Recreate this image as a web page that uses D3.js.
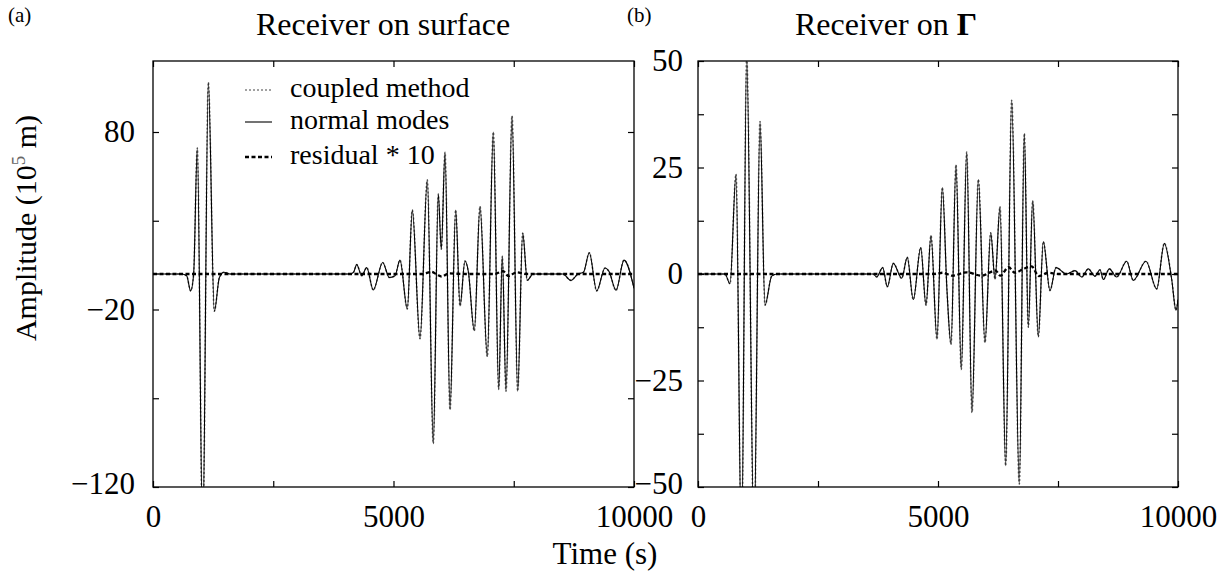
<!DOCTYPE html>
<html>
<head>
<meta charset="utf-8">
<script src="https://cdn.jsdelivr.net/npm/d3@7"></script>
<style>
  html, body { margin: 0; padding: 0; background: #fff; }
  svg { display: block; }
  text { font-family: "Liberation Serif", "Times New Roman", serif; fill: #000; }
</style>
</head>
<body>
<svg id="chart" width="1229" height="581"></svg>
<script>
// ---------------- DATA ----------------
// Panel (a): receiver on surface
const timeA = [0, 600, 700, 783, 845, 921, 1033, 1150, 1275, 1380, 1476, 1600,
  4100, 4170, 4235, 4339, 4443, 4580, 4775, 4913, 5031, 5135, 5287, 5391, 5551, 5703,
  5827, 5931, 5994, 6071, 6175, 6293, 6383, 6486, 6555, 6680, 6798, 6950, 7075, 7187,
  7262, 7339, 7464, 7582, 7686, 7782, 7900, 8524, 8684, 8836, 8950, 9071, 9225, 9397,
  9480, 9626, 9792, 10000];
const normalA = [0, 0, -1, -9.5, 0, 71, -150, 108, -21, -2, 1, 0,
  0, 1, 5.3, -1, 3.6, -9, 6.5, -2, -1, 7.8, -19.7, 36, -36.5, 53,
  -95.5, 45, 14, 68.6, -76.5, 36, -18, 7.3, 1.5, -32, 38, -46.5, 80, -65,
  10, -66, 89, -66, 23, -3.5, 0, 0, -3.6, 0, 1, 12, -9.5, 3.4,
  1.5, -9.2, 7.8, -8];
// the coupled-method trace coincides with the normal-mode trace at this scale
const coupledA = normalA;
const residTimeA = [0, 5600, 5790, 5900, 6000, 6150, 6500, 7100, 7280, 7390, 7560, 7750, 10000];
const residA = [0, 0, 1.2, -0.3, -1.5, 0.3, 0, 0, 1.6, -1.2, 1, 0, 0];

// Panel (b): receiver on Gamma
const timeB = [0, 562, 667, 792, 906, 1014, 1167, 1292, 1396, 1535, 1650,
  3650, 3723, 3848, 3944, 4069, 4244, 4360, 4485, 4640, 4750, 4854, 4979, 5090, 5187,
  5271, 5375, 5485, 5598, 5708, 5840, 5979, 6098, 6188, 6292, 6410, 6535, 6694, 6798,
  6881, 6973, 7090, 7194, 7333, 7458, 7681, 7854, 7994, 8131, 8271, 8375, 8444, 8569,
  8723, 8931, 9069, 9333, 9556, 9715, 9869, 9958, 10000];
const normalB = [0, 0, -2.3, 23.4, -65, 51, -62, 35.8, -7.3, -0.5, 0,
  0, -0.7, 1.5, -3, 2.5, -1, 3.9, -6, 6.2, -7.3, 9, -15.3, 20.3, -3.8,
  -16.5, 25.6, -22.4, 28.6, -32.5, 22.2, -16.1, 9.7, -1.2, 15.8, -45, 40.8, -49.3, 33,
  -12.5, 17.2, -14.7, 7.6, -3.9, 1.5, 0, 0.8, -0.7, 1.2, -0.5, 1, -1.3, 1.2,
  -0.7, 3, -1.5, 3, -3.5, 7.2, -1.3, -8.5, -6];
const coupledB = normalB;
const residTimeB = [0, 4900, 5100, 5300, 5600, 5900, 6200, 6300, 6470, 6600, 6800, 6950, 7100, 7300, 7500, 10000];
const residB = [0, 0, 0.3, -0.4, 0.4, -0.4, 0.8, -0.4, 1.6, 0.3, 1.3, 1.8, -0.5, 0.3, 0, 0];

// Axes / ticks
const xTicks = [0, 2500, 5000, 7500, 10000];
const xTickLabels = [0, 5000, 10000];
const yTicksA = [-120, -70, -20, 30, 80];
const yTickLabelsA = [-120, -20, 80];
const yTicksB = [-50, -37.5, -25, -12.5, 0, 12.5, 25, 37.5, 50];
const yTickLabelsB = [-50, -25, 0, 25, 50];
const legendLabels = ["coupled method", "normal modes", "residual * 10"];

// ---------------- DRAW ----------------
const svg = d3.select("#chart");
const fmt = v => (v < 0 ? "\u2212" + Math.abs(v) : String(v));

const styles = {
  normal:  { stroke: "#000", width: 1.1, dash: null },
  coupled: { stroke: "#777", width: 1.6, dash: "2,2" },
  resid:   { stroke: "#000", width: 2.3, dash: "4,2.5" }
};

function panel(cfg) {
  const x = d3.scaleLinear().domain([0, 10000]).range([cfg.x0, cfg.x1]);
  const y = d3.scaleLinear().domain(cfg.yDomain).range([cfg.y1, cfg.y0]);
  const g = svg.append("g");

  const clipId = "clip" + cfg.id;
  svg.append("clipPath").attr("id", clipId).append("rect")
    .attr("x", cfg.x0).attr("y", cfg.y0)
    .attr("width", cfg.x1 - cfg.x0).attr("height", cfg.y1 - cfg.y0);

  const line = d3.line().x(d => x(d[0])).y(d => y(d[1])).curve(d3.curveMonotoneX);
  const plot = g.append("g").attr("clip-path", `url(#${clipId})`);

  const addLine = (ts, vs, st) => {
    const p = plot.append("path").datum(ts.map((t, i) => [t, vs[i]]))
      .attr("d", line).attr("fill", "none")
      .attr("stroke", st.stroke).attr("stroke-width", st.width)
      .attr("stroke-linejoin", "round");
    if (st.dash) p.attr("stroke-dasharray", st.dash);
  };
  addLine(cfg.t, cfg.coupled, styles.coupled);
  addLine(cfg.t, cfg.normal, styles.normal);
  addLine(cfg.rt, cfg.resid, styles.resid);

  const tickFont = sel => sel.selectAll("text")
    .attr("font-family", "Liberation Serif").attr("font-size", 31).attr("fill", "#000");
  const clean = sel => { sel.select(".domain").remove(); sel.selectAll("line").attr("stroke", "#000").attr("stroke-width", 1.2); };

  const lbl = (vals) => (d => vals.includes(d) ? fmt(d) : "");

  const ax = [
    g.append("g").attr("transform", `translate(0,${cfg.y1})`)
      .call(d3.axisBottom(x).tickValues(xTicks).tickSizeInner(-6).tickSizeOuter(0).tickPadding(18).tickFormat(lbl(xTickLabels))),
    g.append("g").attr("transform", `translate(0,${cfg.y0})`)
      .call(d3.axisTop(x).tickValues(xTicks).tickSizeInner(-6).tickSizeOuter(0).tickFormat("")),
    g.append("g").attr("transform", `translate(${cfg.x0},0)`)
      .call(d3.axisLeft(y).tickValues(cfg.yTicks).tickSizeInner(-6).tickSizeOuter(0).tickPadding(cfg.yPad).tickFormat(lbl(cfg.yLabels))),
    g.append("g").attr("transform", `translate(${cfg.x1},0)`)
      .call(d3.axisRight(y).tickValues(cfg.yTicks).tickSizeInner(-6).tickSizeOuter(0).tickFormat(""))
  ];
  ax.forEach(a => { clean(a); tickFont(a); a.attr("font-family", null).attr("font-size", null); });
  // lowest y label sits slightly above the bottom frame, as in the original
  ax[2].selectAll(".tick").filter(d => d === cfg.yDomain[0]).select("text").attr("dy", "0.2em");

  g.append("rect").attr("x", cfg.x0).attr("y", cfg.y0)
    .attr("width", cfg.x1 - cfg.x0).attr("height", cfg.y1 - cfg.y0)
    .attr("fill", "none").attr("stroke", "#000").attr("stroke-width", 1.3);
  return { x, y, g };
}

panel({ id: "A", x0: 153, x1: 634, y0: 61, y1: 487, yDomain: [-120, 120],
  t: timeA, normal: normalA, coupled: coupledA, rt: residTimeA, resid: residA,
  yTicks: yTicksA, yLabels: yTickLabelsA, yPad: 18 });
panel({ id: "B", x0: 698, x1: 1178, y0: 61, y1: 487, yDomain: [-50, 50],
  t: timeB, normal: normalB, coupled: coupledB, rt: residTimeB, resid: residB,
  yTicks: yTicksB, yLabels: yTickLabelsB, yPad: 15 });

// Titles
svg.append("text").attr("x", 8).attr("y", 22).attr("font-size", 21).text("(a)");
svg.append("text").attr("x", 627).attr("y", 22).attr("font-size", 21).text("(b)");
svg.append("text").attr("x", 256).attr("y", 35).attr("font-size", 32).text("Receiver on surface");
const tb = svg.append("text").attr("x", 795).attr("y", 35).attr("font-size", 32);
tb.append("tspan").text("Receiver on ");
tb.append("tspan").attr("font-weight", "bold").text("\u0393");

// Axis labels
svg.append("text").attr("x", 605).attr("y", 564).attr("text-anchor", "middle")
  .attr("font-size", 31).text("Time (s)");
const yl = svg.append("text").attr("transform", "translate(36,228) rotate(-90)")
  .attr("text-anchor", "middle").attr("font-size", 30);
yl.append("tspan").text("Amplitude (10");
yl.append("tspan").attr("font-size", 19).attr("dy", -11).attr("fill", "#666").text("5");
yl.append("tspan").attr("dy", 11).text(" m)");

// Legend
const legStyles = [styles.coupled, styles.normal, styles.resid];
const legY = [90, 122, 157];
legendLabels.forEach((lab, i) => {
  const st = legStyles[i];
  const l = svg.append("line").attr("x1", 245).attr("x2", 272)
    .attr("y1", legY[i]).attr("y2", legY[i])
    .attr("stroke", i === 0 ? "#444" : st.stroke).attr("stroke-width", i === 0 ? 1.1 : st.width);
  if (st.dash) l.attr("stroke-dasharray", st.dash);
  svg.append("text").attr("x", 290).attr("y", legY[i] + 7).attr("font-size", 28).text(lab);
});
</script>
</body>
</html>
